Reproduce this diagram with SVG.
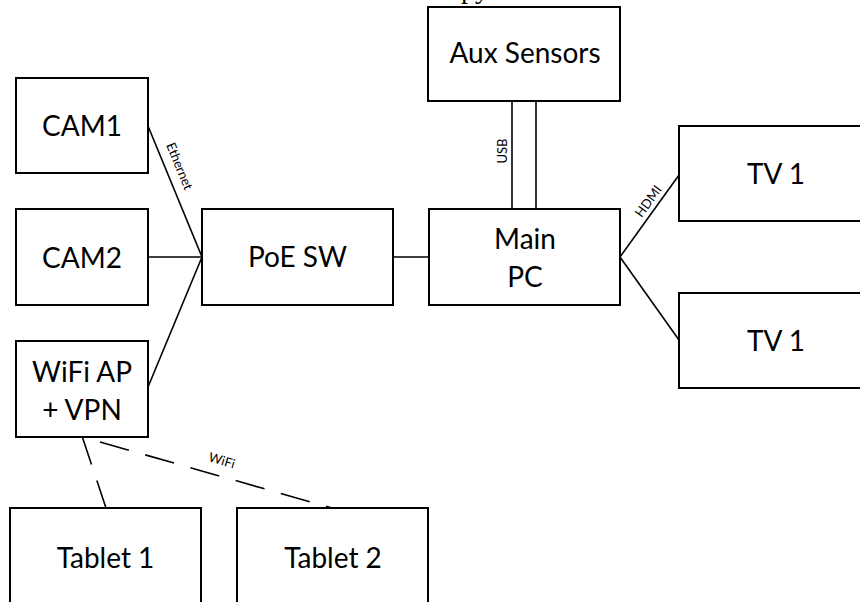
<svg xmlns="http://www.w3.org/2000/svg" width="860" height="602" viewBox="0 0 860 602">
<style>
.box{fill:#fff;stroke:#000;stroke-width:2}
.lbl{font-family:Lato,"Open Sans","Liberation Sans",sans-serif;font-size:28px;fill:#000;text-anchor:middle}
.el{font-family:Lato,"Open Sans","Liberation Sans",sans-serif;font-size:13px;fill:#000;text-anchor:middle;dominant-baseline:central}
.ln{stroke:#000;stroke-width:1.6;fill:none}
.dash{stroke-dasharray:30 17}
</style>
<rect width="860" height="602" fill="#fff"/>
<text x="461" y="-2.5" font-family="'Liberation Serif',serif" font-size="28">py</text>
<g id="connectors">
<line class="ln" x1="148" y1="126" x2="202" y2="257"/>
<line class="ln" x1="148" y1="257" x2="202" y2="257"/>
<line class="ln" x1="148" y1="387" x2="202" y2="257"/>
<line class="ln" x1="393" y1="257" x2="429" y2="257"/>
<line class="ln" x1="512" y1="101" x2="512" y2="209"/>
<line class="ln" x1="536" y1="101" x2="536" y2="209"/>
<line class="ln" x1="620" y1="257" x2="679" y2="175"/>
<line class="ln" x1="620" y1="257" x2="679" y2="340"/>
<line class="ln dash" x1="82" y1="436" x2="106" y2="508"/>
<line class="ln dash" x1="100" y1="442" x2="332" y2="508"/>
<text class="el" transform="translate(180 166) rotate(67.6)">Ethernet</text>
<text class="el" transform="translate(502 151) rotate(-90)">USB</text>
<text class="el" transform="translate(648 201) rotate(-54)">HDMI</text>
<text class="el" transform="translate(222 460) rotate(16)">WiFi</text>
</g>
<g id="cam1"><rect class="box" x="16" y="78" width="132" height="95"/><text class="lbl" x="82" y="136">CAM1</text></g>
<g id="cam2"><rect class="box" x="16" y="209" width="132" height="96"/><text class="lbl" x="82" y="268">CAM2</text></g>
<g id="wifiap"><rect class="box" x="16" y="341" width="132" height="96"/><text class="lbl" x="82" y="382">WiFi AP</text><text class="lbl" x="82" y="420">+ VPN</text></g>
<g id="poesw"><rect class="box" x="202" y="209" width="191" height="96"/><text class="lbl" x="297.5" y="267">PoE SW</text></g>
<g id="mainpc"><rect class="box" x="429" y="209" width="191" height="96"/><text class="lbl" x="525" y="249">Main</text><text class="lbl" x="525" y="287">PC</text></g>
<g id="aux"><rect class="box" x="428" y="7" width="192" height="94"/><text class="lbl" x="525" y="63">Aux Sensors</text></g>
<g id="tv1a"><rect class="box" x="679" y="126" width="194" height="95"/><text class="lbl" x="776" y="184">TV 1</text></g>
<g id="tv1b"><rect class="box" x="679" y="293" width="194" height="95"/><text class="lbl" x="776" y="351">TV 1</text></g>
<g id="tablet1"><rect class="box" x="10" y="508" width="191" height="110"/><text class="lbl" x="105.5" y="568">Tablet 1</text></g>
<g id="tablet2"><rect class="box" x="237" y="508" width="191" height="110"/><text class="lbl" x="333" y="568">Tablet 2</text></g>
</svg>
